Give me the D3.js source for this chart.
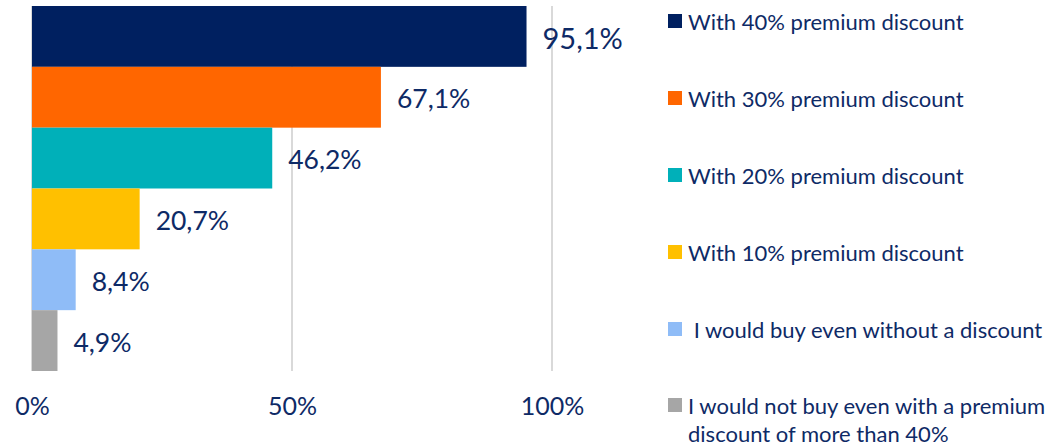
<!DOCTYPE html>
<html>
<head>
<meta charset="utf-8">
<script src="https://cdn.jsdelivr.net/npm/d3@7"></script>
<style>
  html, body { margin: 0; padding: 0; background: #fff; }
  svg { display: block; font-family: Lato, "Open Sans", sans-serif; }
</style>
</head>
<body>
<svg id="chart" width="1064" height="446"></svg>
<script>
// Survey answers, top to bottom
const categories = [
  "With 40% premium discount",
  "With 30% premium discount",
  "With 20% premium discount",
  "With 10% premium discount",
  " I would buy even without a discount",
  "I would not buy even with a premium discount of more than 40%"
];
const values = [95.1, 67.1, 46.2, 20.7, 8.4, 4.9];
const colors = ["#002060", "#FF6600", "#00B0B9", "#FFC000", "#8FBCF7", "#A6A6A6"];
const xTicks = [0, 50, 100];
const legendLines = [
  ["With 40% premium discount"],
  ["With 30% premium discount"],
  ["With 20% premium discount"],
  ["With 10% premium discount"],
  [" I would buy even without a discount"],
  ["I would not buy even with a premium", "discount of more than 40%"]
];

const textColor = "#0E2A66";
const svg = d3.select("#chart");

const locale = d3.formatLocale({ decimal: ",", thousands: ".", grouping: [3], currency: ["", "€"] });
const fmt = v => locale.format(".1f")(v) + "%";

const x = d3.scaleLinear().domain([0, 100]).range([32, 552]);
const y = d3.scaleBand().domain(categories).range([6, 371]).paddingInner(0).paddingOuter(0);

// vertical gridlines
svg.append("g").selectAll("line").data(xTicks).join("line")
  .attr("x1", d => x(d)).attr("x2", d => x(d))
  .attr("y1", 6).attr("y2", 371)
  .attr("stroke", "#D9D9D9").attr("stroke-width", 2);

// bars
svg.append("g").selectAll("rect").data(values).join("rect")
  .attr("x", x(0))
  .attr("y", (d, i) => y(categories[i]))
  .attr("width", d => x(d) - x(0))
  .attr("height", y.bandwidth())
  .attr("fill", (d, i) => colors[i]);

// value labels
svg.append("g").selectAll("text").data(values).join("text")
  .attr("x", d => x(d) + 16)
  .attr("y", (d, i) => y(categories[i]) + y.bandwidth() / 2 + 1)
  .attr("dominant-baseline", "central")
  .attr("fill", textColor)
  .attr("font-size", (d, i) => i === 0 ? 29 : 26.5)
  .text(d => fmt(d));

// x axis tick labels
const axis = d3.axisBottom(x).tickValues(xTicks).tickSize(0).tickPadding(0).tickFormat(d => d + "%");
const ax = svg.append("g").attr("transform", "translate(0,397)").call(axis);
ax.select(".domain").remove();
ax.selectAll("text")
  .attr("fill", textColor)
  .attr("font-size", 25)
  .attr("font-family", "Lato, 'Open Sans', sans-serif");

// legend
const lg = svg.append("g");
const rowY = [21, 98, 175, 252, 329, 405];
legendLines.forEach((lines, i) => {
  lg.append("rect")
    .attr("x", 668).attr("y", rowY[i] - 7)
    .attr("width", 14).attr("height", 14)
    .attr("fill", colors[i]);
  const t = lg.append("text")
    .attr("x", 688).attr("y", rowY[i])
    .attr("dominant-baseline", "central")
    .attr("fill", textColor)
    .attr("font-size", 22)
    .style("white-space", "pre");
  lines.forEach((ln, j) => {
    t.append("tspan").attr("x", 688).attr("dy", j === 0 ? 0 : 28).text(ln);
  });
});
</script>
</body>
</html>
